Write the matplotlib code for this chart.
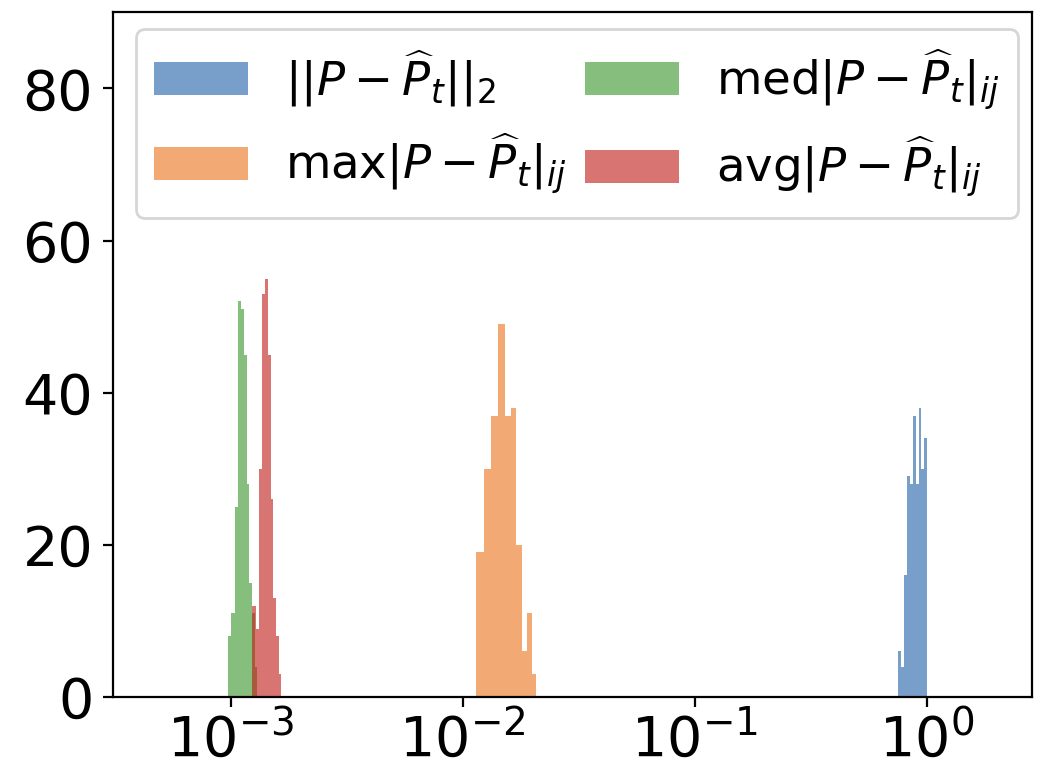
import numpy as np
import matplotlib
matplotlib.use("Agg")
import matplotlib.pyplot as plt

# histogram counts (10 linear bins each)
norm2_range = [0.752, 0.998]
norm2_counts = [6, 4, 16, 29, 28, 37, 28, 38, 30, 34]

max_range = [0.01143, 0.02075]
max_counts = [19, 30, 37, 49, 37, 38, 20, 6, 11, 3]

med_range = [0.000975, 0.001303]
med_counts = [8, 11, 25, 52, 51, 45, 28, 15, 11, 4]

avg_range = [0.001240, 0.001653]
avg_counts = [12, 9, 30, 53, 55, 45, 26, 13, 8, 3]

labels = [r'$||P-\widehat{P}_t||_2$',
          r'max$|P-\widehat{P}_t|_{ij}$',
          r'med$|P-\widehat{P}_t|_{ij}$',
          r'avg$|P-\widehat{P}_t|_{ij}$']

series = [(norm2_range, norm2_counts, '#1f5fa5'),
          (max_range, max_counts, '#ec7016'),
          (med_range, med_counts, '#369426'),
          (avg_range, avg_counts, '#be1812')]

fig, ax = plt.subplots(figsize=(5.265, 3.83), dpi=200)
fig.subplots_adjust(left=0.107, right=0.980, top=0.984, bottom=0.090)

for (rng, counts, col), lab in zip(series, labels):
    edges = np.linspace(rng[0], rng[1], len(counts) + 1)
    centers = 0.5 * (edges[:-1] + edges[1:])
    ax.hist(centers, bins=edges, weights=counts, color=col, alpha=0.6,
            linewidth=0, label=lab)

ax.set_xscale('log')
ax.set_xlim(3.1e-4, 2.84)
ax.set_ylim(0, 90)
ax.set_yticks([0, 20, 40, 60, 80])
ax.minorticks_off()
ax.tick_params(labelsize=20)
ax.tick_params(axis='x', pad=2)

ax.legend(ncol=2, loc='upper center', bbox_to_anchor=(0.505, 1.0),
          fontsize=16.8, columnspacing=0.4, borderaxespad=0.35)

fig.savefig('out.png', dpi=200)
